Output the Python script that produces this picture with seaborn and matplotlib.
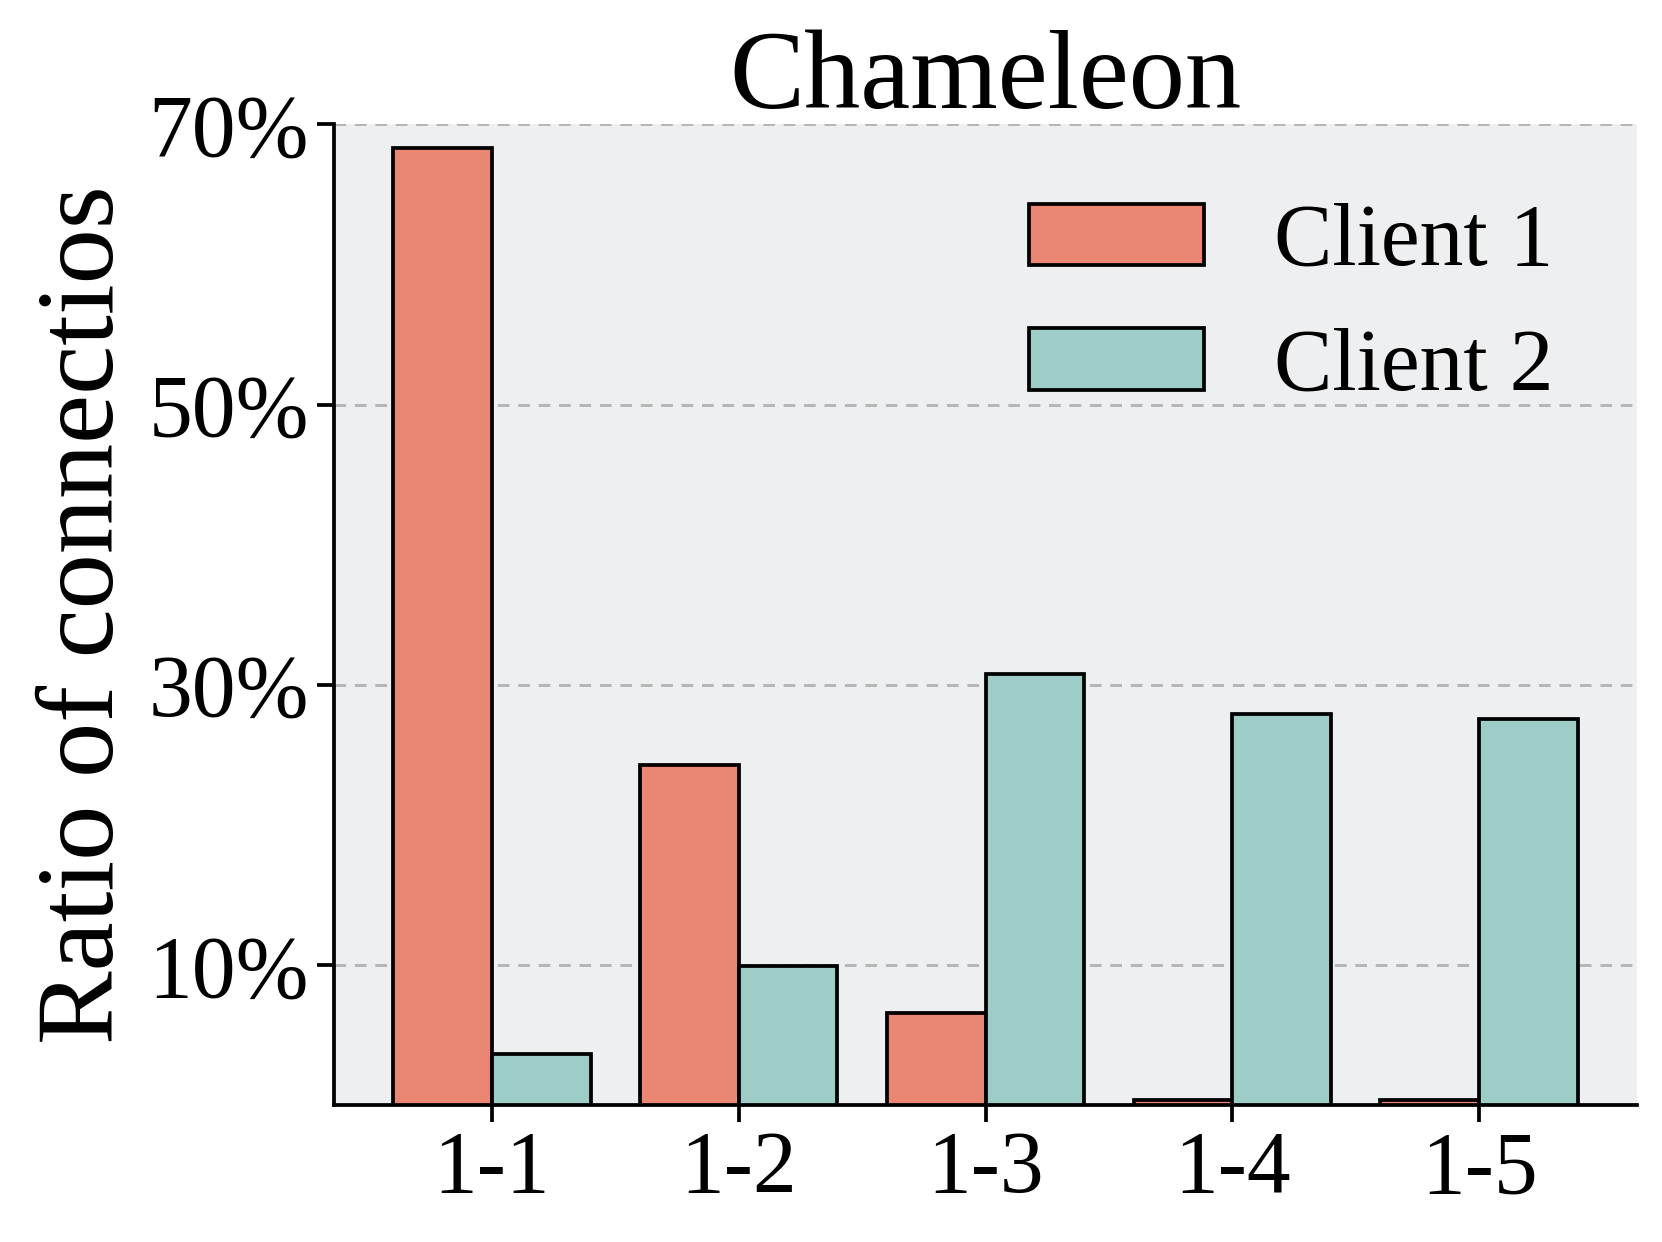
import matplotlib
matplotlib.use("Agg")
import matplotlib.pyplot as plt
import seaborn as sns
import pandas as pd
from matplotlib.ticker import FuncFormatter

categories = ["1-1", "1-2", "1-3", "1-4", "1-5"]
client1 = [68.3, 24.3, 6.6, 0.35, 0.35]
client2 = [3.7, 9.95, 30.8, 27.9, 27.6]
series_names = ["Client 1", "Client 2"]
yticks = [10, 30, 50, 70]

df = pd.DataFrame({
    "cat": categories * 2,
    "val": client1 + client2,
    "client": [series_names[0]] * 5 + [series_names[1]] * 5,
})

sns.set_theme(style="white")
plt.rcParams["font.family"] = ["Liberation Serif", "DejaVu Serif"]
plt.rcParams["text.color"] = "black"
plt.rcParams["axes.labelcolor"] = "black"
plt.rcParams["xtick.color"] = "black"
plt.rcParams["ytick.color"] = "black"

fig, ax = plt.subplots(figsize=(5.54, 4.14), dpi=300)
ax.set_facecolor("#EEEFF1")
ax.yaxis.grid(True, linestyle=(0, (4, 3)), color="#B5B5B5", linewidth=0.7, zorder=0)
ax.set_axisbelow(True)

sns.barplot(data=df, x="cat", y="val", hue="client", palette=["#EA8674", "#9ECDC8"],
            saturation=1, edgecolor="black", linewidth=0.9, width=0.8, ax=ax, zorder=3)

ax.set_ylim(0, 70)
ax.set_xlim(-0.64, 4.64)
ax.set_yticks(yticks)
ax.yaxis.set_major_formatter(FuncFormatter(lambda v, p: f"{int(v)}%"))
ax.tick_params(axis="both", labelsize=21, length=4, width=0.9, color="black", direction="out",
               bottom=True, left=True, pad=2, labelcolor="black")
ax.set_xlabel("")
ax.set_ylabel("Ratio of connectios", fontsize=26.5, labelpad=3, color="black")
ax.set_title("Chameleon", fontsize=27, pad=4, color="black")

for s in ["top", "right"]:
    ax.spines[s].set_visible(False)
for s in ["left", "bottom"]:
    ax.spines[s].set_color("black")
    ax.spines[s].set_linewidth(0.9)

leg = ax.legend(loc="upper right", fontsize=21, frameon=False, handlelength=2.0,
                handleheight=0.7, labelspacing=0.5, handletextpad=0.8,
                bbox_to_anchor=(0.996, 1.0))
for t in leg.get_texts():
    t.set_color("black")

fig.subplots_adjust(left=0.201, right=0.985, top=0.9, bottom=0.11)
fig.savefig("out.png", dpi=300)
